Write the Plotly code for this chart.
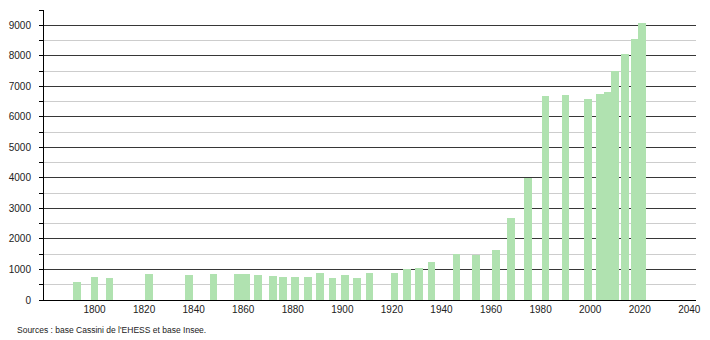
import plotly.graph_objects as go

years = [1793, 1800, 1806, 1822, 1838, 1848, 1858, 1861, 1866, 1872, 1876, 1881,
         1886, 1891, 1896, 1901, 1906, 1911, 1921, 1926, 1931, 1936, 1946, 1954,
         1962, 1968, 1975, 1982, 1990, 1999, 2004, 2007, 2010, 2014, 2018, 2021]
population = [600, 765, 735, 855, 825, 860, 855, 855, 815, 790, 750, 750,
              755, 880, 725, 810, 725, 890, 880, 1020, 1050, 1250, 1500, 1460,
              1645, 2690, 4000, 6680, 6710, 6580, 6740, 6800, 7500, 8060, 8550, 9070]
x_ticks = list(range(1800, 2041, 20))
y_ticks = list(range(0, 9001, 1000))
source_text = "Sources : base Cassini de l'EHESS et base Insee."

fig = go.Figure()
fig.add_trace(go.Bar(
    x=years, y=population, width=3.1,
    marker=dict(color="rgb(176,226,176)", line=dict(width=0)),
    hoverinfo="x+y",
))

font = "Liberation Sans, Arial, sans-serif"
fig.update_layout(
    width=710, height=340,
    margin=dict(l=44, r=9, t=10, b=40),
    paper_bgcolor="white", plot_bgcolor="white",
    showlegend=False,
    font=dict(family=font, size=10, color="#222"),
    xaxis=dict(
        range=[1779.6, 2042.7],
        tickvals=x_ticks, ticktext=[str(v) for v in x_ticks],
        showgrid=False, zeroline=False,
        showline=True, linecolor="black", linewidth=1,
        ticks="", ticklen=0,
        tickfont=dict(size=10, color="#222"),
    ),
    yaxis=dict(
        range=[0, 9500],
        tickvals=y_ticks, ticktext=[str(v) for v in y_ticks],
        showgrid=True, gridcolor="rgb(55,55,55)", gridwidth=1,
        zeroline=False,
        showline=True, linecolor="black", linewidth=1,
        ticks="outside", ticklen=4, tickcolor="black",
        ticklabelstandoff=6,
        minor=dict(dtick=500, tick0=0, showgrid=True, gridcolor="rgb(205,205,205)",
                   gridwidth=1, ticks="outside", ticklen=4, tickcolor="black"),
        tickfont=dict(size=10, color="#222"),
    ),
    bargap=0,
)

fig.add_annotation(
    text=source_text, xref="paper", yref="paper",
    x=(15 - 44) / 657, y=-30 / 290, xanchor="left", yanchor="middle",
    showarrow=False,
    font=dict(family=font, size=8.5, color="#222"),
)

fig.write_html("out.html")
